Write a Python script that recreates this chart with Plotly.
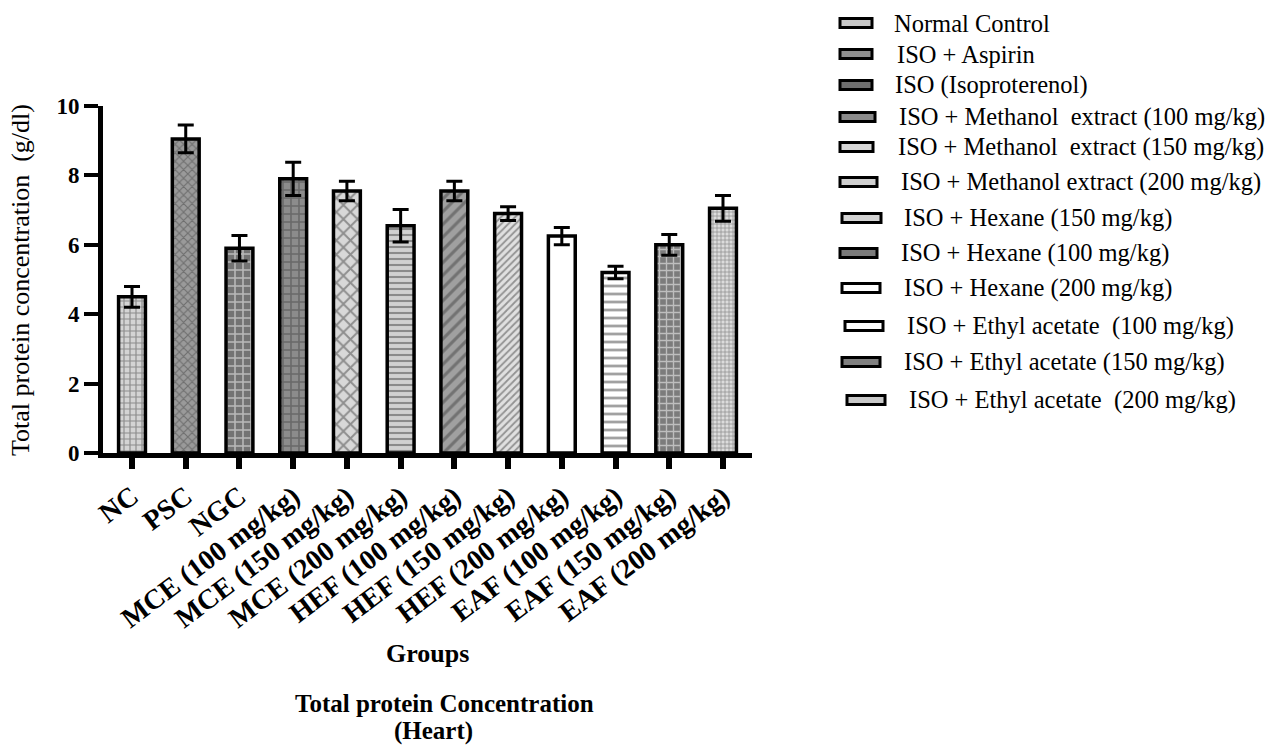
import plotly.graph_objects as go

# Group means and SEM of total protein concentration (g/dl), heart tissue
groups = [
    "NC", "PSC", "NGC",
    "MCE (100 mg/kg)", "MCE (150 mg/kg)", "MCE (200 mg/kg)",
    "HEF (100 mg/kg)", "HEF (150 mg/kg)", "HEF (200 mg/kg)",
    "EAF (100 mg/kg)", "EAF (150 mg/kg)", "EAF (200 mg/kg)",
]
mean_protein = [4.5, 9.05, 5.9, 7.9, 7.55, 6.55, 7.55, 6.9, 6.25, 5.2, 6.0, 7.05]
sem_protein = [0.3, 0.4, 0.37, 0.48, 0.28, 0.47, 0.28, 0.2, 0.25, 0.18, 0.3, 0.37]

legend_labels = [
    "Normal Control",
    "ISO + Aspirin",
    "ISO (Isoproterenol)",
    "ISO + Methanol  extract (100 mg/kg)",
    "ISO + Methanol  extract (150 mg/kg)",
    "ISO + Methanol extract (200 mg/kg)",
    "ISO + Hexane (150 mg/kg)",
    "ISO + Hexane (100 mg/kg)",
    "ISO + Hexane (200 mg/kg)",
    "ISO + Ethyl acetate  (100 mg/kg)",
    "ISO + Ethyl acetate (150 mg/kg)",
    "ISO + Ethyl acetate  (200 mg/kg)",
]

# Fill styling per bar (grayscale patterns drawn over a solid fill)
bar_fill = ["#d4d4d4", "#9a9a9a", "#737373", "#8c8c8c", "#d8d8d8", "#d0d0d0",
            "#a0a0a0", "#e0e0e0", "#ffffff", "#ffffff", "#7c7c7c", "#dcdcdc"]
bar_fg = ["#ffffff", "#6a6a6a", "#9a9a9a", "#c4c4c4", "#6e6e6e", "#a4a4a4",
          "#555555", "#a8a8a8", "#ffffff", "#505050", "#4c4c4c", "#8a8a8a"]
bar_shape = ["+", "x", "+", "+", "x", "-", "/", "/", "", "-", "+", "+"]
bar_size = [6, 6, 8, 8, 10, 6, 9, 5, 8, 8, 7, 4]
swatch_fill = ["#c8c8c8", "#8e8e8e", "#6e6e6e", "#8a8a8a", "#d8d8d8", "#cfcfcf",
               "#d4d4d4", "#7a7a7a", "#ffffff", "#ffffff", "#808080", "#c8c8c8"]

# Legend layout (pixel positions on the page)
leg_rows_y = [23, 54, 85, 117, 147, 182, 218, 253, 288, 326, 362, 400]
leg_swatch_x0 = [840, 840, 840, 840, 840, 840, 842, 840, 842, 845, 842, 847]
leg_swatch_x1 = [872, 872, 872, 875, 873, 877, 881, 877, 880, 883, 880, 885]
leg_text_x = [892, 895, 893, 897, 896, 899, 902, 899, 902, 905, 902, 907]

W, H = 1282, 746
PL, PR, PT, PB = 103, 752, 106, 453  # plot area edges in pixels


def pxx(x):
    return (x - PL) / (PR - PL)


def pxy(y):
    return (PB - y) / (PB - PT)


SERIF = "Liberation Serif, Times New Roman, serif"

fig = go.Figure()
fig.add_trace(go.Bar(
    x=groups,
    y=mean_protein,
    width=0.5,
    marker=dict(
        color=bar_fill,
        line=dict(color="black", width=3.5),
        pattern=dict(shape=bar_shape, fgcolor=bar_fg, size=bar_size,
                     solidity=0.35, fillmode="overlay"),
    ),
    error_y=dict(type="data", array=sem_protein, symmetric=True,
                 color="black", thickness=3, width=8),
    showlegend=False,
))

shapes = []
annotations = []
for i, lab in enumerate(legend_labels):
    yc = leg_rows_y[i]
    shapes.append(dict(
        type="rect", xref="paper", yref="paper",
        x0=pxx(leg_swatch_x0[i]), x1=pxx(leg_swatch_x1[i]),
        y0=pxy(yc + 4.5), y1=pxy(yc - 4.5),
        fillcolor=swatch_fill[i], line=dict(color="black", width=3),
    ))
    annotations.append(dict(
        text=lab, xref="paper", yref="paper",
        x=pxx(leg_text_x[i]), y=pxy(yc), xanchor="left", yanchor="middle",
        showarrow=False, font=dict(family=SERIF, size=24.5, color="black"),
    ))

annotations += [
    dict(text="Total protein concentration  (g/dl)", textangle=-90,
         xref="paper", yref="paper", x=pxx(20), y=pxy(280),
         xanchor="center", yanchor="middle", showarrow=False,
         font=dict(family=SERIF, size=26, color="black")),
    dict(text="<b>Groups</b>", xref="paper", yref="paper",
         x=pxx(427), y=pxy(653), xanchor="center", yanchor="middle",
         showarrow=False, font=dict(family=SERIF, size=26, color="black")),
    dict(text="<b>Total protein Concentration</b>", xref="paper", yref="paper",
         x=pxx(444), y=pxy(703), xanchor="center", yanchor="middle",
         showarrow=False, font=dict(family=SERIF, size=25, color="black")),
    dict(text="<b>(Heart)</b>", xref="paper", yref="paper",
         x=pxx(433), y=pxy(731), xanchor="center", yanchor="middle",
         showarrow=False, font=dict(family=SERIF, size=25, color="black")),
]

fig.update_layout(
    width=W, height=H,
    margin=dict(l=PL, r=W - PR, t=PT, b=H - PB, pad=0),
    plot_bgcolor="white", paper_bgcolor="white",
    shapes=shapes, annotations=annotations,
    xaxis=dict(
        range=[-0.54, 11.54], showgrid=False, zeroline=False,
        showline=True, linecolor="black", linewidth=5,
        ticks="outside", ticklen=11, tickwidth=6, tickcolor="black",
        tickangle=-37,
        tickfont=dict(family=SERIF, size=28, color="black", weight="bold"),
    ),
    yaxis=dict(
        range=[0, 10], tickvals=[0, 2, 4, 6, 8, 10], showgrid=False,
        zeroline=False, showline=True, linecolor="black", linewidth=5,
        ticks="outside", ticklen=14, tickwidth=4, tickcolor="black",
        tickfont=dict(family=SERIF, size=23, color="black", weight="bold"),
    ),
)

fig.write_html("out.html")
